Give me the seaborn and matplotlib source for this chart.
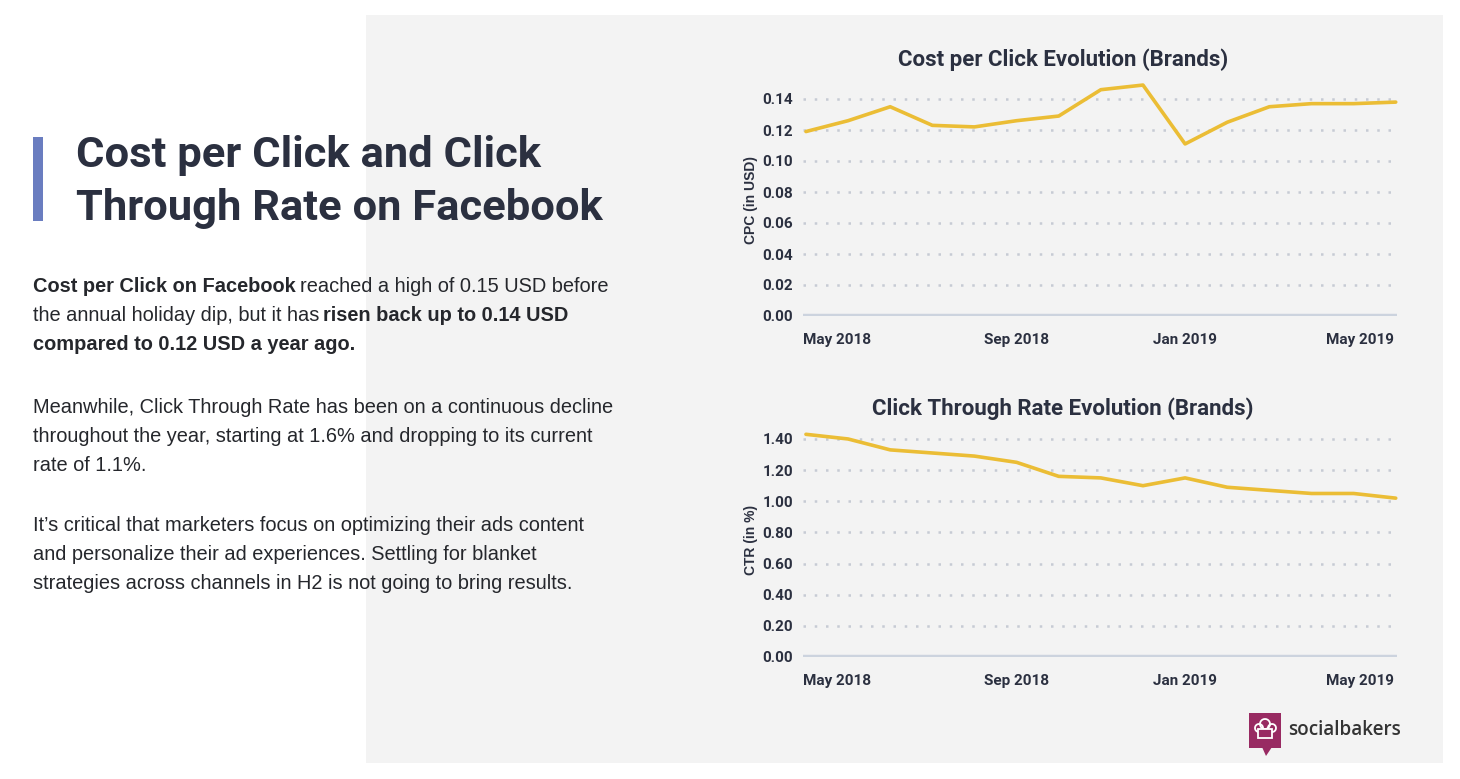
import matplotlib.pyplot as plt
import matplotlib.patches as mpatches
import matplotlib.transforms as mtrans
import seaborn as sns
import numpy as np
import pandas as pd

# monthly values
months = ["Apr 2018", "May 2018", "Jun 2018", "Jul 2018", "Aug 2018", "Sep 2018",
          "Oct 2018", "Nov 2018", "Dec 2018", "Jan 2019", "Feb 2019", "Mar 2019",
          "Apr 2019", "May 2019", "Jun 2019"]
cpc = [0.119, 0.126, 0.135, 0.123, 0.122, 0.126, 0.129, 0.146, 0.149, 0.111,
       0.125, 0.135, 0.137, 0.137, 0.138]
ctr = [1.43, 1.40, 1.33, 1.31, 1.29, 1.25, 1.16, 1.15, 1.10, 1.15,
       1.09, 1.07, 1.05, 1.05, 1.02]
tick_months = ["May 2018", "Sep 2018", "Jan 2019", "May 2019"]
cpc_ticks = [0.00, 0.02, 0.04, 0.06, 0.08, 0.10, 0.12, 0.14]
ctr_ticks = [0.00, 0.20, 0.40, 0.60, 0.80, 1.00, 1.20, 1.40]

DARK = "#2b3040"
LINE = "#ebbd35"
PANEL = "#f3f3f3"

sns.set_style("white")
plt.rcParams['font.family'] = ['Roboto', 'DejaVu Sans']

W, H = 1460, 779
fig = plt.figure(figsize=(W / 100, H / 100), dpi=100)
fig.patch.set_facecolor("white")

# background layer in pixel coordinates
bg = fig.add_axes([0, 0, 1, 1], zorder=-1)
bg.set_xlim(0, W)
bg.set_ylim(H, 0)
bg.axis("off")
bg.add_patch(mpatches.Rectangle((366, 15), 1443 - 366, 763 - 15, color=PANEL, lw=0))
bg.add_patch(mpatches.Rectangle((33, 137), 10, 84, color="#6a7dc0", lw=0))

bg.text(76, 167, "Cost per Click and Click", fontsize=31.3, fontweight="bold",
        color=DARK, va="baseline")
bg.text(76, 220, "Through Rate on Facebook", fontsize=31.3, fontweight="bold",
        color=DARK, va="baseline")

renderer = fig.canvas.get_renderer()
body_size = 14.4
space = body_size * 0.278


def draw_runs(x, y, runs):
    for txt, bold in runs:
        t = bg.text(x, y, txt, fontsize=body_size, family="Liberation Sans",
                    fontweight="bold" if bold else "normal", color="#25272c",
                    va="baseline", ha="left")
        x += t.get_window_extent(renderer).width + space


body = [
    (292, [("Cost per Click on Facebook", True), ("reached a high of 0.15 USD before", False)]),
    (321, [("the annual holiday dip, but it has", False), ("risen back up to 0.14 USD", True)]),
    (350, [("compared to 0.12 USD a year ago.", True)]),
    (413, [("Meanwhile, Click Through Rate has been on a continuous decline", False)]),
    (442, [("throughout the year, starting at 1.6% and dropping to its current", False)]),
    (471, [("rate of 1.1%.", False)]),
    (531, [("It\u2019s critical that marketers focus on optimizing their ads content", False)]),
    (560, [("and personalize their ad experiences. Settling for blanket", False)]),
    (589, [("strategies across channels in H2 is not going to bring results.", False)]),
]
for y, runs in body:
    draw_runs(33, y, runs)

# logo
bg.add_patch(mpatches.Rectangle((1249, 713), 32, 35, color="#982a62", lw=0))
bg.add_patch(mpatches.Polygon([(1262, 747), (1272, 747), (1266, 756)], color="#982a62", lw=0))
for cx, cy, r in [(1259, 728, 4), (1265, 724, 5), (1272, 728, 4)]:
    bg.add_patch(mpatches.Arc((cx, cy), 2 * r, 2 * r, theta1=0, theta2=360,
                              color="white", lw=1.3))
bg.add_patch(mpatches.Rectangle((1258, 729), 14, 9, facecolor="#982a62",
                                edgecolor="white", lw=1.3))
bg.text(1288, 735, "socialbakers", fontsize=13.6, family="Open Sans",
        fontweight="semibold", color="#333333", va="baseline")

# chart titles, centred as in the original layout
bg.text(1063, 60, "Cost per Click Evolution (Brands)", fontsize=16,
        fontweight="bold", color=DARK, ha="center", va="center")
bg.text(1063, 409, "Click Through Rate Evolution (Brands)", fontsize=16,
        fontweight="bold", color=DARK, ha="center", va="center")

# charts
x = np.arange(len(months))
tick_pos = [months.index(m) for m in tick_months]


def draw_chart(rect, values, ticks, ylim, ylabel, fmt):
    ax = fig.add_axes(rect)
    ax.set_facecolor("none")
    df = pd.DataFrame({"month": x, "value": values})
    sns.lineplot(data=df, x="month", y="value", ax=ax, color=LINE, linewidth=2.6,
                 clip_on=False)
    ax.set_xlim(-0.07, 14.03)
    ax.set_ylim(*ylim)
    ax.set_yticks(ticks)
    ax.set_yticklabels([fmt.format(t) for t in ticks])
    ax.set_xticks(tick_pos)
    ax.set_xticklabels(tick_months)
    ax.yaxis.grid(True, linestyle=(0, (1, 3.5)), color="#c6cbd4", linewidth=1.8)
    ax.xaxis.grid(False)
    ax.axhline(0, color="#ccd3de", linewidth=3.2, zorder=1)
    for s in ax.spines.values():
        s.set_visible(False)
    ax.tick_params(axis="y", length=0, pad=7, labelsize=11, labelcolor=DARK)
    ax.tick_params(axis="x", length=0, pad=12, labelsize=11, labelcolor=DARK)
    for lab in ax.get_xticklabels() + ax.get_yticklabels():
        lab.set_fontweight("bold")
    # end labels are pulled inside the plot edges
    xl = ax.get_xticklabels()
    xl[0].set_transform(xl[0].get_transform() +
                        mtrans.ScaledTranslation(-0.11, 0, fig.dpi_scale_trans))
    xl[-1].set_transform(xl[-1].get_transform() +
                         mtrans.ScaledTranslation(0.06, 0, fig.dpi_scale_trans))
    ax.set_xlabel("")
    ax.set_ylabel(ylabel, fontsize=10, fontweight="bold", family="Liberation Sans",
                  color=DARK, labelpad=3)
    return ax


draw_chart([803 / W, 1 - 316 / H, 594 / W, (316 - 83.5) / H], cpc, cpc_ticks,
           (0, 0.15), "CPC (in USD)", "{:.2f}")
draw_chart([803 / W, 1 - 657 / H, 594 / W, (657 - 423.4) / H], ctr, ctr_ticks,
           (0, 1.5), "CTR (in %)", "{:.2f}")

fig.savefig("out.png", dpi=100)
